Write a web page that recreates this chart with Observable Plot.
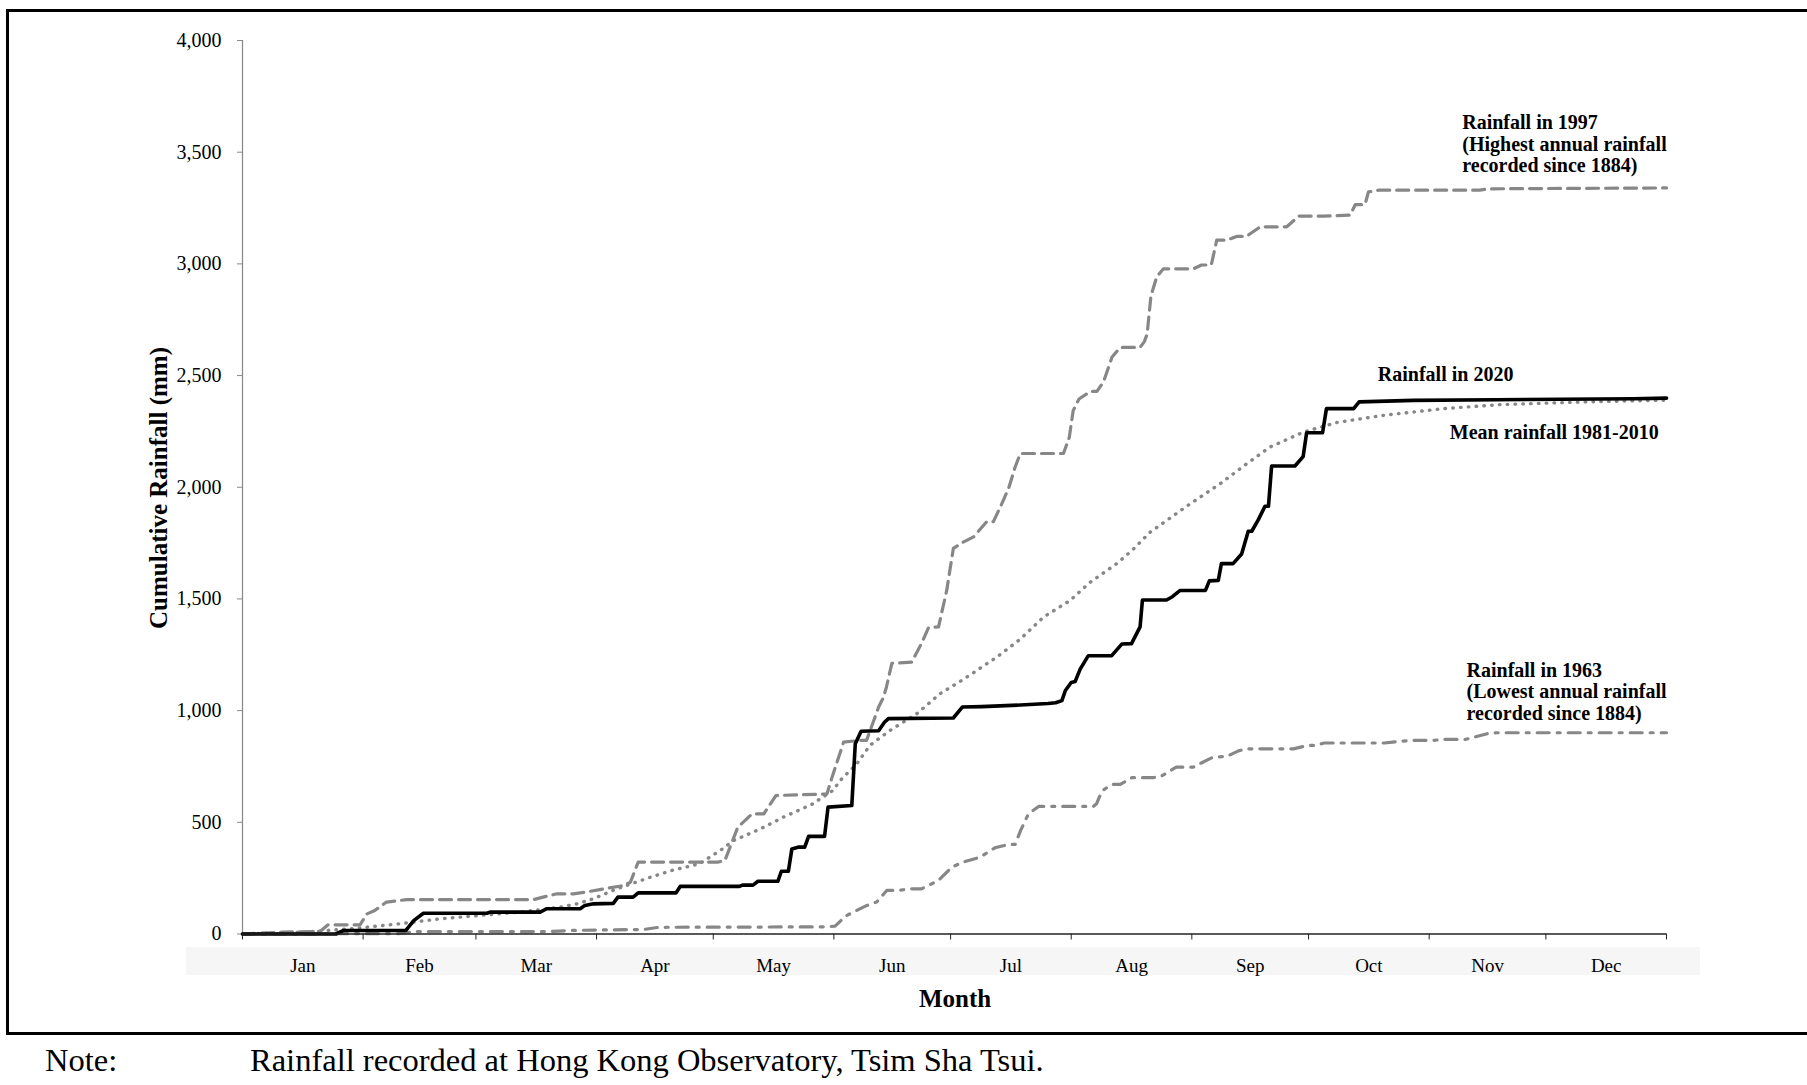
<!DOCTYPE html>
<html>
<head>
<meta charset="utf-8">
<script src="https://cdn.jsdelivr.net/npm/d3@7"></script>
<script src="https://cdn.jsdelivr.net/npm/@observablehq/plot@0.6"></script>
<style>
  html, body { margin: 0; padding: 0; background: #fff; overflow: hidden; }
  body { width: 1807px; height: 1085px; position: relative; font-family: "Liberation Serif", "Times New Roman", serif; color: #000; }
  #frame { position: absolute; left: 6px; top: 9px; width: 1840px; height: 1026px; border: 3px solid #000; box-sizing: border-box; }
  #band { position: absolute; left: 186px; top: 947px; width: 1514px; height: 28px; background: #f6f6f6; }
  #chart { position: absolute; left: 0; top: 0; }
  #ylabel { position: absolute; left: 159px; top: 488px; transform: translate(-50%, -50%) rotate(-90deg); font-weight: bold; font-size: 25px; white-space: nowrap; }
  #xlabel { position: absolute; left: 955px; top: 999px; transform: translate(-50%, -50%); font-weight: bold; font-size: 25px; white-space: nowrap; }
  .note { position: absolute; top: 1060px; transform: translateY(-50%); font-size: 32.5px; white-space: nowrap; }
</style>
</head>
<body>
<div id="frame"></div>
<div id="band"></div>
<div id="chart"></div>
<div id="ylabel">Cumulative Rainfall (mm)</div>
<div id="xlabel">Month</div>
<div class="note" style="left:45px">Note:</div>
<div class="note" style="left:250px">Rainfall recorded at Hong Kong Observatory, Tsim Sha Tsui.</div>
<script>
// ---- axis categories / ticks ----
const months = ["Jan","Feb","Mar","Apr","May","Jun","Jul","Aug","Sep","Oct","Nov","Dec"];
const monthStarts = [0,31,60,91,121,152,182,213,244,274,305,335,366]; // day of year (2020, leap year)
const yTicks = [0,500,1000,1500,2000,2500,3000,3500,4000];

// ---- series: [day of year, cumulative rainfall (mm)] ----
const rain2020 = [[0,0],[24,0],[26,16],[42,16],[44,60],[46.5,93],[62.8,93],[63.6,98],[76.5,98],[78.2,113],[86.8,113],[88,128],[90.2,135],[95.3,137],[96.5,165],[100.4,165],[101.7,184],[111.4,184],[112.5,213],[127.7,213],[128.5,219],[131.2,219],[132.5,236],[137.6,236],[138.5,281],[140.3,281],[141.2,381],[143,389],[144.5,389],[145.5,437],[149.6,437],[150.5,568],[156.6,575],[157.5,852],[159,908],[163.5,910],[165,948],[166,964],[182.7,967],[185,1016],[190,1018],[200,1025],[207,1032],[209,1035],[210.6,1045],[211.5,1090],[213,1126],[214,1130],[215.3,1186],[217.4,1246],[223.4,1246],[226,1298],[228.5,1300],[230.7,1375],[231.3,1495],[237.5,1495],[239,1510],[241,1538],[247.5,1538],[248.5,1581],[250.8,1583],[251.6,1658],[254.6,1658],[256.8,1701],[258.5,1803],[259.4,1803],[261.1,1855],[262.8,1915],[263.7,1915],[264.5,2095],[270.5,2095],[272.6,2137],[273.5,2244],[277.6,2244],[278.6,2352],[285.6,2352],[287,2382],[301,2389],[322,2392],[357.5,2396],[366,2399]];

const rainMean = [[0,0],[15,8],[27.6,23],[40.5,46],[50.8,68],[61,83],[71.3,98],[81.6,120],[86,135],[90.2,158],[96.2,202],[104.8,254],[110.5,285],[117.4,314],[122.8,374],[126.3,419],[133.2,471],[139,523],[146.3,580],[151.8,643],[153.6,687],[157.9,762],[161.3,845],[166.4,911],[173.3,986],[179.3,1076],[185.3,1140],[193.9,1240],[199.9,1320],[205.9,1419],[212.7,1493],[217.9,1575],[224.7,1658],[228.6,1717],[233.3,1799],[243.6,1926],[251.3,2016],[258.1,2105],[264.1,2180],[272.7,2247],[281.3,2290],[293.3,2322],[308.7,2352],[323.3,2370],[344.7,2382],[366,2390]];

const rain1997 = [[0,0],[10,8],[20,12],[22,41],[30.2,41],[32,90],[34,105],[37,143],[42.2,154],[74.8,154],[77,164],[80.8,180],[85,180],[88,187],[92.8,202],[97.7,216],[99.7,232],[101.7,322],[122.3,322],[124,330],[127.3,478],[131,538],[134,538],[137.1,620],[150.2,627],[151.5,700],[154.5,859],[158.7,867],[160.4,867],[163.5,1016],[164.7,1058],[165.5,1105],[166.9,1212],[172,1217],[174.5,1300],[176.3,1371],[178.9,1375],[181,1538],[182.7,1726],[185,1752],[187.9,1778],[191.3,1846],[193,1846],[195,1920],[197,2000],[198.5,2086],[199.9,2151],[211,2151],[212.5,2223],[213.5,2343],[215,2395],[217.9,2429],[219.6,2429],[221.3,2472],[223.5,2583],[225.6,2626],[230.7,2626],[231.8,2652],[232.5,2685],[233.5,2858],[235,2943],[236.7,2978],[244.4,2978],[246.5,2995],[249,2995],[250.4,3106],[253,3106],[255.5,3123],[258,3123],[261.6,3166],[268.4,3166],[271.5,3214],[277.8,3214],[284.7,3218],[286,3265],[288.5,3265],[289.4,3322],[292,3330],[318,3330],[320,3336],[366,3340]];

const rain1963 = [[0,0],[40,2],[45,11],[78,11],[85,16],[100,20],[103,20],[107,30],[150,32],[152.3,35],[155,80],[157,98],[160.5,128],[163,143],[165.6,195],[168.2,195],[172,202],[174.5,202],[178.9,240],[182.3,299],[185,321],[189.6,344],[193.4,386],[196.9,401],[198.6,401],[200,464],[202,538],[204.6,571],[218.7,571],[219.5,583],[220.9,640],[223.4,670],[225.6,670],[228.6,700],[234.1,700],[236,705],[240,747],[244.4,747],[246,762],[249.5,792],[253,795],[256,820],[258.1,829],[270.1,829],[273.8,844],[275.7,844],[278,855],[293.5,855],[300.4,867],[306.2,867],[308.5,871],[314.3,871],[320,897],[322.3,901],[366,901]];

// ---- annotations (text, anchored in data space) ----
const annotations = [
  {text: "Rainfall in 1997\n(Highest annual rainfall\nrecorded since 1884)", day: 313.5, value: 3538, anchor: "start"},
  {text: "Rainfall in 2020", day: 291.8, value: 2506, anchor: "start"},
  {text: "Mean rainfall 1981-2010", day: 364, value: 2247, anchor: "end"},
  {text: "Rainfall in 1963\n(Lowest annual rainfall\nrecorded since 1884)", day: 314.6, value: 1086, anchor: "start"}
];

const monthMids = months.map((m, i) => (monthStarts[i] + monthStarts[i + 1]) / 2);
const gray = "#878787";
const font = "Liberation Serif, Times New Roman, serif";
const labelStyle = {x: "day", y: "value", text: "text", lineAnchor: "middle", lineHeight: 1.07, fontSize: 20, fontWeight: "bold", fill: "#000"};

const chart = Plot.plot({
  width: 1807,
  height: 1035,
  marginLeft: 242,
  marginRight: 141,
  marginTop: 40,
  marginBottom: 101.5,
  style: {background: "transparent", fontFamily: font, fontSize: "20px", color: "#000", overflow: "visible"},
  x: {domain: [0, 366]},
  y: {domain: [0, 4000]},
  marks: [
    Plot.axisY({ticks: yTicks, tickFormat: d3.format(","), tickSize: 5, tickPadding: 16, stroke: "#888", fill: "#000", fontSize: 20, label: null}),
    Plot.axisX({ticks: monthStarts, tickFormat: () => "", tickSize: 6, stroke: "#222", label: null}),
    Plot.axisX({ticks: monthMids, tickSize: 0, tickPadding: 24, tickFormat: d => months[monthMids.indexOf(d)], fontSize: 19, label: null}),
    Plot.ruleX([0], {stroke: "#888", strokeWidth: 1.2}),
    Plot.line(rainMean, {x: d => d[0], y: d => d[1], stroke: gray, strokeWidth: 3.4, strokeDasharray: "0.5,7.3", strokeLinecap: "round"}),
    Plot.line(rain1963, {x: d => d[0], y: d => d[1], stroke: gray, strokeWidth: 3.2, strokeDasharray: "12,8,3,8"}),
    Plot.line(rain1997, {x: d => d[0], y: d => d[1], stroke: gray, strokeWidth: 3.2, strokeDasharray: "12,7"}),
    Plot.line(rain2020, {x: d => d[0], y: d => d[1], stroke: "#000", strokeWidth: 3.6, strokeLinejoin: "round"}),
    Plot.ruleY([0], {stroke: "#222", strokeWidth: 1.5}),
    Plot.text(annotations.filter(d => d.anchor === "start"), {...labelStyle, textAnchor: "start"}),
    Plot.text(annotations.filter(d => d.anchor === "end"), {...labelStyle, textAnchor: "end"})
  ]
});
document.getElementById("chart").appendChild(chart);
</script>
</body>
</html>
